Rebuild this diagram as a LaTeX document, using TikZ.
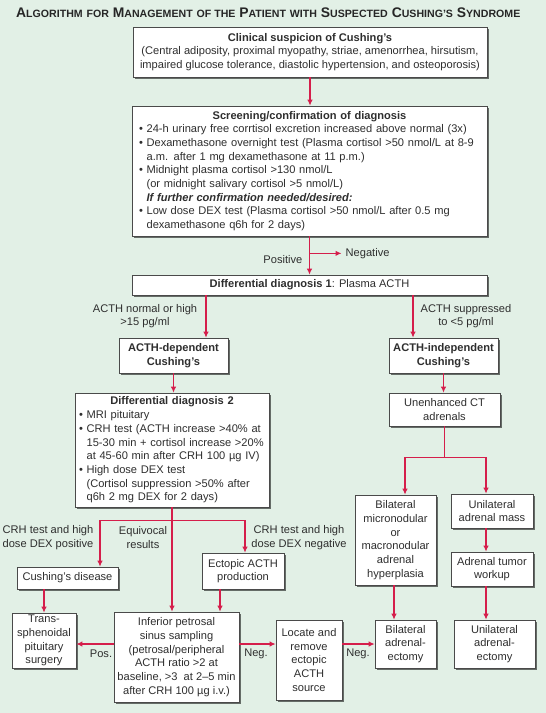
\documentclass[tikz,border=0pt]{standalone}
\usepackage{fontspec}
\setmainfont{Liberation Sans}
\usepackage{tikz}
\usetikzlibrary{arrows.meta,shadows,positioning}

\definecolor{bgmint}{HTML}{E2F0E6}
\definecolor{linkred}{HTML}{D51E4B}
\definecolor{boxline}{HTML}{4A4A4A}
\definecolor{ink}{HTML}{2E2E2E}

\newcommand\flowfont{\fontsize{11.1}{13.7}\selectfont}
\newcommand\tinycaps[1]{{\fontsize{10.6}{12}\selectfont #1}}
\newcommand\capword[2]{#1\tinycaps{#2}}
\newcommand\itm{\textbullet\ }
\newcommand\cont{\phantom{\textbullet\ }}
\newcommand\boxhead[1]{\makebox[\hsize]{\textbf{#1}}}

\tikzset{
  basic/.style   = {draw=boxline, line width=0.7pt, fill=white, text=ink, font=\flowfont,
                    drop shadow={shadow xshift=1.5pt, shadow yshift=-1.5pt, fill=black, opacity=0.55},
                    inner ysep=1pt},
  box/.style     = {basic, align=center, inner xsep=2pt},
  listbox/.style = {basic, align=left},
  tag/.style     = {text=ink, font=\flowfont, align=center, inner sep=1pt},
  link/.style    = {draw=linkred, line width=1.1pt, -{Latex[length=6pt,width=5.5pt]}}
}

\begin{document}
\begin{tikzpicture}[x=1pt, y=-1pt]
\fill[bgmint] (0,0) rectangle (546,713);
\useasboundingbox (0,0) rectangle (546,713);

\node[anchor=west, inner sep=0pt, text=black!85, font=\bfseries\fontsize{13.9}{15}\selectfont] (title) at (16,13)
  {\capword{A}{LGORITHM} \tinycaps{FOR} \capword{M}{ANAGEMENT} \tinycaps{OF THE} \capword{P}{ATIENT}
   \tinycaps{WITH} \capword{S}{USPECTED} \capword{C}{USHING'S} \capword{S}{YNDROME}};

% screening part
\node[box, minimum width=354pt, minimum height=50pt] (clin) at (310,52)
  {\textbf{Clinical suspicion of Cushing's}\\
   (Central adiposity, proximal myopathy, striae, amenorrhea, hirsutism,\\
   impaired glucose tolerance, diastolic hypertension, and osteoporosis)};
\node[listbox, inner xsep=7pt, text width=341pt, minimum height=130pt] (screen) at (309.5,171)
  {\boxhead{Screening/confirmation of diagnosis}\\
   \itm 24-h urinary free corrtisol excretion increased above normal (3x)\\
   \itm Dexamethasone overnight test (Plasma cortisol >50 nmol/L at 8-9\\
   \cont a.m. after 1 mg dexamethasone at 11 p.m.)\\
   \itm Midnight plasma cortisol >130 nmol/L\\
   \cont (or midnight salivary cortisol >5 nmol/L)\\
   \cont\textbf{\itshape If further confirmation needed/desired:}\\
   \itm Low dose DEX test (Plasma cortisol >50 nmol/L after 0.5 mg\\
   \cont dexamethasone q6h for 2 days)};
\node[box, minimum width=355pt, minimum height=20pt] (dd1) at (309.5,285)
  {\textbf{Differential diagnosis 1}: Plasma ACTH};

% ACTH-dependent side
\node[box, minimum width=109pt, minimum height=35pt] (acthdep) at (173.5,355.5)
  {\textbf{ACTH-dependent}\\\textbf{Cushing's}};
\node[listbox, inner xsep=4pt, text width=186pt, minimum height=114pt] (dd2) at (172,450)
  {\boxhead{Differential diagnosis 2}\\
   \itm MRI pituitary\\
   \itm CRH test (ACTH increase >40\% at\\
   \cont 15-30 min + cortisol increase >20\%\\
   \cont at 45-60 min after CRH 100 µg IV)\\
   \itm High dose DEX test\\
   \cont (Cortisol suppression >50\% after\\
   \cont q6h 2 mg DEX for 2 days)};
\node[box, minimum width=101pt, minimum height=22pt] (cushdis) at (67.5,578) {Cushing's disease};
\node[box, minimum width=82pt, minimum height=36pt] (ectopic) at (243,571) {Ectopic ACTH\\production};
\node[box, minimum width=64pt, minimum height=55pt] (transs) at (44,640.5)
  {Trans-\\sphenoidal\\pituitary\\surgery};
\node[box, minimum width=125pt, minimum height=90pt] (ipss) at (176.5,657)
  {Inferior petrosal\\sinus sampling\\(petrosal/peripheral\\ACTH ratio >2 at\\
   baseline, >3\ \ at 2--5 min\\after CRH 100 µg i.v.)};
\node[box, minimum width=66pt, minimum height=80pt] (locate) at (309,660)
  {Locate and\\remove\\ectopic\\ACTH\\source};

% ACTH-independent side
\node[box, minimum width=109pt, minimum height=35pt] (acthind) at (443.5,355.5)
  {\textbf{ACTH-independent}\\\textbf{Cushing's}};
\node[box, minimum width=111pt, minimum height=33pt] (ct) at (444.5,409.5) {Unenhanced CT\\adrenals};
\node[box, minimum width=81pt, minimum height=90pt] (bilat) at (395.5,540)
  {Bilateral\\micronodular\\or\\macronodular\\adrenal\\hyperplasia};
\node[box, minimum width=82pt, minimum height=34pt] (unimass) at (492,511) {Unilateral\\adrenal mass};
\node[box, minimum width=82pt, minimum height=34pt] (tumor) at (492,569) {Adrenal tumor\\workup};
\node[box, minimum width=61pt, minimum height=48pt] (bilatx) at (405.5,644) {Bilateral\\adrenal-\\ectomy};
\node[box, minimum width=81pt, minimum height=48pt] (unilatx) at (494.5,644) {Unilateral\\adrenal-\\ectomy};

% labels
\node[tag] (lbldep) at (145,316) {ACTH normal or high\\>15 pg/ml};
\node[tag] (lblind) at (466,316) {ACTH suppressed\\to <5 pg/ml};
\node[tag] (lblpos) at (48,537.5) {CRH test and high\\dose DEX positive};
\node[tag] (lblequ) at (143,537.5) {Equivocal\\results};
\node[tag] (lblneg) at (299,537.5) {CRH test and high\\dose DEX negative};
\node[tag] (lblp) at (101,654) {Pos.};
\node[tag] (lbln1) at (256,654) {Neg.};
\node[tag] (lbln2) at (358,654) {Neg.};

% arrows
\draw[link] (clin.south) -- (clin.south |- screen.north);
\coordinate (split) at ([yshift=-17pt]screen.south);
\coordinate (negend) at ([xshift=32pt]split);
\draw[link] (screen.south) -- (screen.south |- dd1.north);
\draw[link] (split) -- (negend);
\node[tag, right=3pt of negend] (neg) {Negative};
\node[tag, left=6pt of split, yshift=-6pt] (pos) {Positive};

\draw[link] ([xshift=32.5pt]acthdep.north |- dd1.south) -- ([xshift=32.5pt]acthdep.north);
\draw[link] ([xshift=-30.5pt]acthind.north |- dd1.south) -- ([xshift=-30.5pt]acthind.north);
\draw[link] (acthdep.south) -- (acthdep.south |- dd2.north);
\draw[link] (acthind.south) -- (acthind.south |- ct.north);

\coordinate (ctfork) at ([yshift=-31pt]ct.south);
\draw[link] (ct.south) -- (ctfork) -| ([xshift=9.5pt]bilat.north);
\draw[link] (ctfork) -| ([xshift=-6pt]unimass.north);
\foreach \a/\b in {unimass/tumor, tumor/unilatx}
  \draw[link] ([xshift=-6pt]\a.south) -- ([xshift=-6pt]\a.south |- \b.north);
\draw[link] ([xshift=-1.5pt]bilat.south) -- ([xshift=-1.5pt]bilat.south |- bilatx.north);

\coordinate (ddfork) at ([yshift=-13pt]dd2.south);
\draw[link] (dd2.south) -- (dd2.south |- ipss.north);
\draw[link] (ddfork) -| ([xshift=32.5pt]cushdis.north);
\draw[link] (ddfork) -| ([xshift=2pt]ectopic.north);
\draw[link] (transs.north |- cushdis.south) -- (transs.north);
\draw[link] ([xshift=-23pt]ectopic.south) -- ([xshift=-23pt]ectopic.south |- ipss.north);

\draw[link] (ipss.west |- bilatx.west) -- (transs.east |- bilatx.west);
\draw[link] (ipss.east |- bilatx.west) -- (locate.west |- bilatx.west);
\draw[link] (locate.east |- bilatx.west) -- (bilatx.west);
\end{tikzpicture}
\end{document}
